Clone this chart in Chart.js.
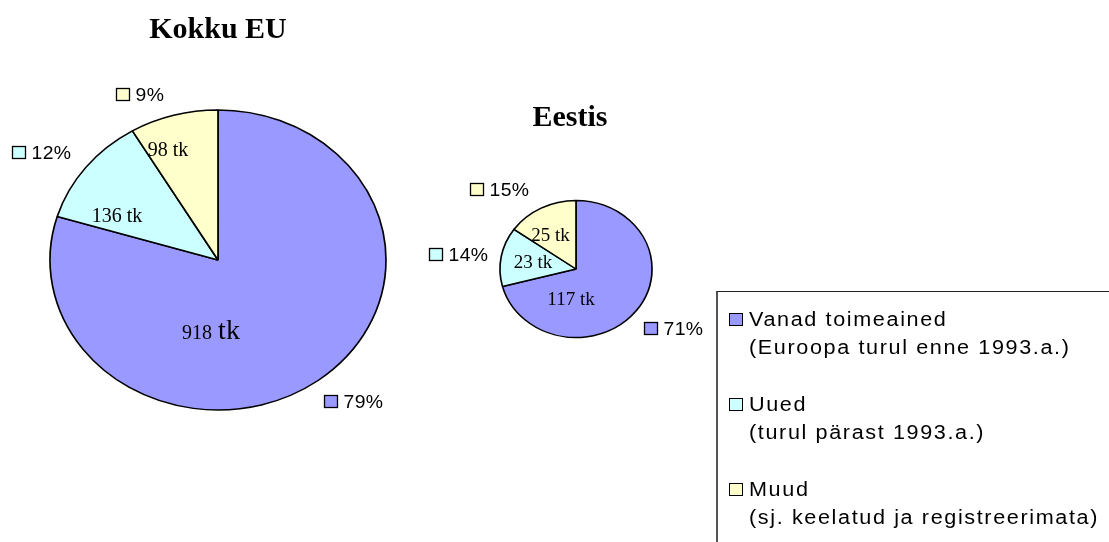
<!DOCTYPE html>
<html>
<head>
<meta charset="utf-8">
<script src="https://cdn.jsdelivr.net/npm/chart.js@4/dist/chart.umd.min.js"></script>
<style>
  html, body { margin: 0; padding: 0; background: #fff; }
  #wrap { position: relative; width: 1109px; height: 542px; overflow: hidden; background: #fff; }
  canvas.layer { position: absolute; left: 0; top: 0; }
  #legend { position: absolute; left: 716px; top: 291px; width: 420px; height: 270px;
            border-left: 2px solid #555; border-top: 1px solid #222; box-sizing: border-box;
            font-family: "Liberation Sans", Arial, sans-serif; font-size: 20px; letter-spacing: 1.5px; color: #000; }
  .item { position: absolute; left: 31px; line-height: 28px; white-space: nowrap;
          transform: scaleX(1.08); transform-origin: 0 0; }
  .sw { position: absolute; left: 11px; width: 12px; height: 11px; border: 1px solid #000; }
</style>
</head>
<body>
<div id="wrap">
  <canvas id="eu" class="layer" width="1109" height="542"></canvas>
  <canvas id="ee" class="layer" width="1109" height="542"></canvas>
  <div id="legend"></div>
</div>
<script>
// ---- data ----
const categories = ['Vanad toimeained', 'Uued', 'Muud'];
const categoryNotes = ['(Euroopa turul enne 1993.a.)', '(turul pärast 1993.a.)', '(sj. keelatud ja registreerimata)'];
const euTitle = 'Kokku EU';
const euValues = [918, 136, 98];
const euPercentLabels = ['79%', '12%', '9%'];
const eeTitle = 'Eestis';
const eeValues = [117, 23, 25];
const eePercentLabels = ['71%', '14%', '15%'];
const unit = 'tk';
const colors = ['#9999FF', '#CCFFFF', '#FFFFCC'];

// ---- layout (pixel placement only) ----
const euLayout = {
  cx: 218, cy: 260, r: 150, sx: 1.12,
  title: { dx: 0, dy: -222 },
  valueFont: 20, bigUnit: true,
  valuePos: [[-7.5, 79], [-101, -38], [-50, -104]],
  pctPos: [[106, 148], [-206, -101], [-102, -159]]
};
const eeLayout = {
  cx: 576, cy: 269, r: 68.5, sx: 1.11,
  title: { dx: -6, dy: -143 },
  valueFont: 19, bigUnit: false,
  valuePos: [[-5, 36], [-43, -1], [-25.5, -28]],
  pctPos: [[68, 66], [-147, -8], [-106, -73]]
};

const ellipsePlugin = {
  id: 'ellipse',
  beforeDatasetsDraw(chart, args, opts) {
    const ctx = chart.ctx;
    const a = chart.getDatasetMeta(0).data[0];
    ctx.save();
    ctx.translate(a.x, a.y);
    ctx.scale(opts.sx || 1, 1);
    ctx.translate(-a.x, -a.y);
  },
  afterDatasetsDraw(chart) { chart.ctx.restore(); }
};

const labelPlugin = {
  id: 'labels',
  afterDraw(chart, args, opts) {
    const ctx = chart.ctx;
    const L = opts.layout;
    const a = chart.getDatasetMeta(0).data[0];
    const cx = a.x, cy = a.y;
    const values = chart.data.datasets[0].data;
    ctx.save();
    // title
    ctx.fillStyle = '#000';
    ctx.font = 'bold 30px "Liberation Serif", "Times New Roman", serif';
    ctx.textAlign = 'center';
    ctx.textBaseline = 'alphabetic';
    ctx.fillText(opts.title, cx + L.title.dx, cy + L.title.dy);
    // value labels
    values.forEach((v, i) => {
      const [dx, dy] = L.valuePos[i];
      const x = cx + dx, y = cy + dy;
      if (L.bigUnit && i === 0) {
        ctx.font = L.valueFont + 'px "Liberation Serif", serif';
        const t1 = String(v) + ' ';
        const w1 = ctx.measureText(t1).width;
        ctx.font = '28px "Liberation Serif", serif';
        const w2 = ctx.measureText(unit).width;
        const x0 = x - (w1 + w2) / 2;
        ctx.textAlign = 'left';
        ctx.font = L.valueFont + 'px "Liberation Serif", serif';
        ctx.fillText(t1, x0, y);
        ctx.font = '28px "Liberation Serif", serif';
        ctx.fillText(unit, x0 + w1 + 1, y);
      } else {
        ctx.textAlign = 'center';
        ctx.font = L.valueFont + 'px "Liberation Serif", serif';
        ctx.fillText(v + ' ' + unit, x, y);
      }
    });
    // percentage labels with swatches
    const bg = chart.data.datasets[0].backgroundColor;
    opts.pct.forEach((p, i) => {
      const [dx, dy] = L.pctPos[i];
      const bx = cx + dx, by = cy + dy;
      ctx.fillStyle = bg[i];
      ctx.fillRect(bx, by - 13, 14, 13);
      ctx.strokeStyle = '#000';
      ctx.lineWidth = 1.3;
      ctx.strokeRect(bx + 0.5, by - 12.5, 13, 12);
      ctx.fillStyle = '#000';
      ctx.textAlign = 'left';
      ctx.font = '19px "Liberation Sans", Arial, sans-serif';
      try { ctx.letterSpacing = '0.4px'; } catch (e) {}
      ctx.save();
      ctx.translate(bx + 19.5, by);
      ctx.scale(1.02, 1);
      ctx.fillText(p, 0, 0);
      ctx.restore();
      try { ctx.letterSpacing = '0px'; } catch (e) {}
    });
    ctx.restore();
  }
};

function makePie(id, values, title, pct, L) {
  const W = 1109, H = 542;
  return new Chart(document.getElementById(id), {
    type: 'pie',
    data: {
      labels: categories,
      datasets: [{
        data: values,
        backgroundColor: colors,
        borderColor: '#000',
        borderWidth: 1.5,
        hoverOffset: 0
      }]
    },
    options: {
      responsive: false,
      devicePixelRatio: 1,
      animation: false,
      events: [],
      radius: L.r,
      layout: { padding: { left: L.cx - 200, right: W - L.cx - 200, top: L.cy - 200, bottom: H - L.cy - 200 } },
      plugins: {
        legend: { display: false },
        tooltip: { enabled: false },
        title: { display: false },
        ellipse: { sx: L.sx },
        labels: { layout: L, title: title, pct: pct }
      }
    },
    plugins: [ellipsePlugin, labelPlugin]
  });
}

makePie('eu', euValues, euTitle, euPercentLabels, euLayout);
makePie('ee', eeValues, eeTitle, eePercentLabels, eeLayout);

// legend (HTML text)
const legend = document.getElementById('legend');
const baseTop = 12.5; // first line top inside legend box
categories.forEach((c, i) => {
  const top = baseTop + i * 85;
  const sw = document.createElement('div');
  sw.className = 'sw';
  sw.style.top = (top + 8.5) + 'px';
  sw.style.background = colors[i];
  legend.appendChild(sw);
  const it = document.createElement('div');
  it.className = 'item';
  it.style.top = top + 'px';
  const l1 = document.createElement('div'); l1.textContent = c;
  const l2 = document.createElement('div'); l2.textContent = categoryNotes[i];
  it.appendChild(l1); it.appendChild(l2);
  legend.appendChild(it);
});
</script>
</body>
</html>
